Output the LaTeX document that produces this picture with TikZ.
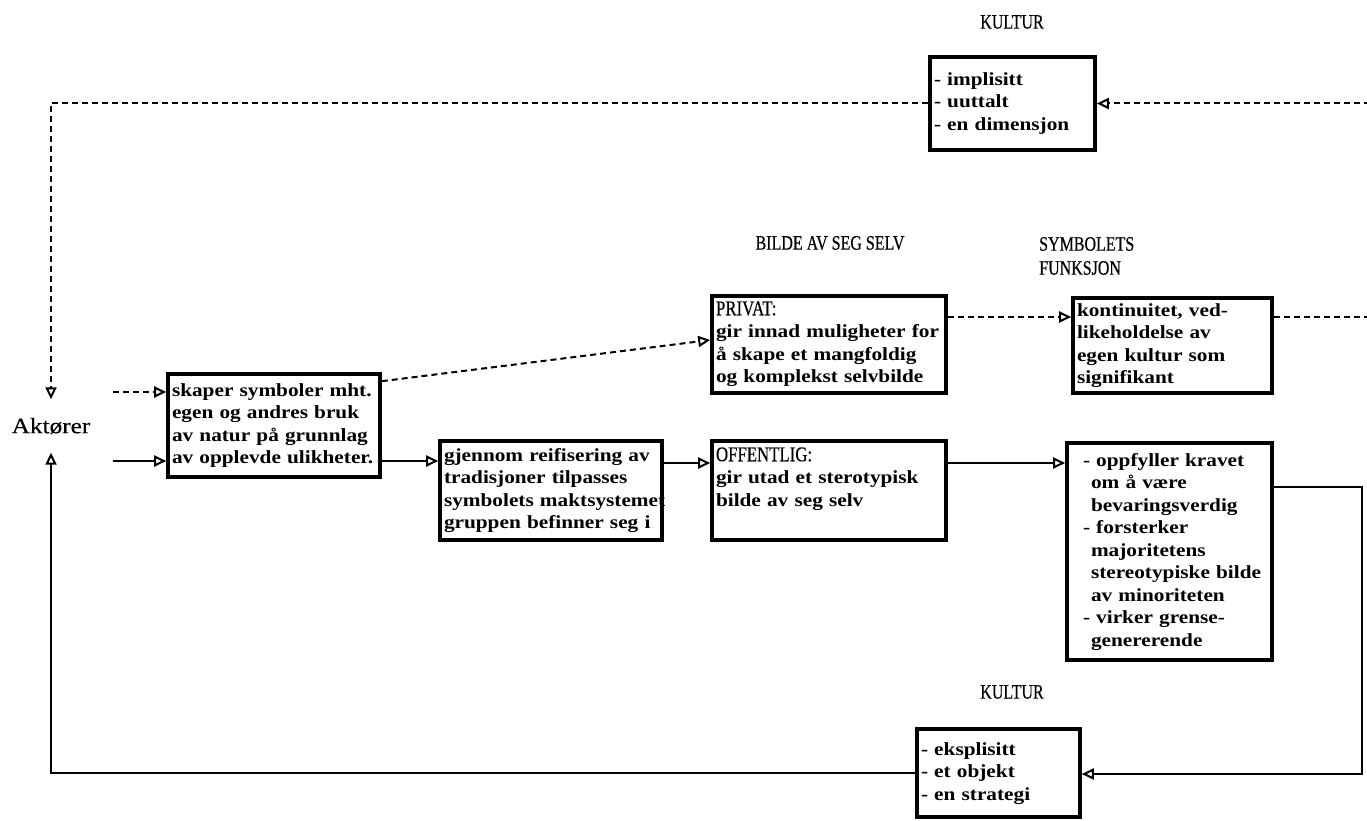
\documentclass[tikz,border=0pt]{standalone}
\usepackage{fontspec}
\setmainfont{Liberation Serif}
\newfontfamily\bodyfont[FakeStretch=1.15]{Liberation Serif}
\newfontfamily\headfont[FakeStretch=0.78,FakeBold=0.4]{Liberation Serif}
\newfontfamily\aktfont[FakeStretch=1.15,FakeBold=0.4]{Liberation Serif}
\newfontfamily\lblfont[FakeStretch=0.8,FakeBold=0.4]{Liberation Serif}
\usetikzlibrary{arrows.meta,calc}
\newcommand{\bx}[1]{\begin{tabular}{@{}l@{}}#1\end{tabular}}
\tikzset{
  box/.style={draw, rectangle, line width=3.6pt, inner xsep=4pt, inner ysep=0pt,
    align=left, font=\bodyfont\bfseries\fontsize{18.5}{22.5}\selectfont},
  hd/.style={font=\headfont\fontsize{20.5}{24}\selectfont, inner sep=0pt},
  aktstyle/.style={font=\aktfont\fontsize{22}{24}\selectfont, inner sep=0pt, minimum height=53pt},
  conn/.style={line width=2pt, -{Triangle[open,length=12pt,width=11pt,line width=2pt]}},
  dsh/.style={dash pattern=on 6pt off 4pt},
}
\newcommand{\lbl}[1]{{\lblfont\mdseries\fontsize{21}{22.5}\selectfont #1}}
\begin{document}
\begin{tikzpicture}[x=1pt,y=-1pt]
\useasboundingbox (0,0) rectangle (1367,821);
\clip (0,0) rectangle (1367,821);

% headers
\node[hd] (kulturT) at (1012,22) {KULTUR};
\node[hd] (bilde) at (830,243) {BILDE AV SEG SELV};
\node[hd, anchor=west, align=left] (symb) at (1039,256) {SYMBOLETS\\FUNKSJON};
\node[hd] (kulturB) at (1012,692) {KULTUR};
\node[aktstyle] (akt) at (51,426) {Aktører};

% boxes
\node[box, minimum width=165pt, minimum height=93pt, text width=157pt] (topK) at (1012.5,103.5)
  {\bx{- implisitt\\- uuttalt\\- en dimensjon}};
\node[box, minimum width=212pt, minimum height=103pt, text width=204pt] (skaper) at (274,425.5)
  {\bx{skaper symboler mht.\\egen og andres bruk\\av natur på grunnlag\\av opplevde ulikheter.}};
\node[box, minimum width=222pt, minimum height=99pt, text width=214pt] (gjennom) at (551,490.5)
  {\bx{gjennom reifisering av\\tradisjoner tilpasses\\symbolets maktsystemet\\gruppen befinner seg i}};
\node[box, minimum width=234pt, minimum height=97pt, text width=226pt] (priv) at (829,344.5)
  {\bx{\lbl{PRIVAT:}\\gir innad muligheter for\\å skape et mangfoldig\\og komplekst selvbilde}};
\node[box, minimum width=234pt, minimum height=99pt, text width=226pt] (offent) at (829,490.5)
  {\bx{\lbl{OFFENTLIG:}\\gir utad et sterotypisk\\bilde av seg selv\\\mbox{}}};
\node[box, minimum width=199pt, minimum height=95pt, text width=191pt] (kont) at (1172.5,345.5)
  {\bx{kontinuitet, ved-\\likeholdelse av\\egen kultur som\\signifikant}};
\node[box, minimum width=205pt, minimum height=217pt, text width=197pt] (oppf) at (1169.5,551.5)
  {\bx{\hspace*{12pt}- oppfyller kravet\\\hspace*{20pt}om å være\\\hspace*{20pt}bevaringsverdig\\\hspace*{12pt}- forsterker\\\hspace*{20pt}majoritetens\\\hspace*{20pt}stereotypiske bilde\\\hspace*{20pt}av minoriteten\\\hspace*{12pt}- virker grense-\\\hspace*{20pt}genererende}};
\node[box, minimum width=163pt, minimum height=88pt, text width=155pt] (botK) at (998.5,773)
  {\bx{- eksplisitt\\- et objekt\\- en strategi}};

% coordinates
\coordinate (dIn) at (113,392);
\coordinate (sIn) at (113,461);
\coordinate (rowO) at (0,463);
\coordinate (rowK) at (0,317);
\coordinate (rowR) at (0,487);
\coordinate (pIn) at (0,340);
\coordinate (rE) at (1362,487);
\coordinate (rEb) at (1362,774);
\coordinate (fR) at (1420,317);
\coordinate (fRt) at (1420,103.5);

% connectors
\draw[conn,dsh] (topK.west) -| (akt.north);
\draw[conn] (botK.west) -| (akt.south);
\draw[conn,dsh] (dIn) -- (dIn -| skaper.west);
\draw[conn] (sIn) -- (sIn -| skaper.west);
\draw[conn] (sIn -| skaper.east) -- (sIn -| gjennom.west);
\draw[conn] (rowO -| gjennom.east) -- (rowO -| offent.west);
\draw[conn] (rowO -| offent.east) -- (rowO -| oppf.west);
\draw[conn,dsh] ($(skaper.north east)+(0,9)$) -- (pIn -| priv.west);
\draw[conn,dsh] (rowK -| priv.east) -- (rowK -| kont.west);
\draw[conn,dsh] (rowK -| kont.east) -- (fR) -- (fRt) -- (topK.east);
\draw[conn] (rowR -| oppf.east) -- (rE) -- (rEb) -- (rEb -| botK.east);
\end{tikzpicture}
\end{document}
